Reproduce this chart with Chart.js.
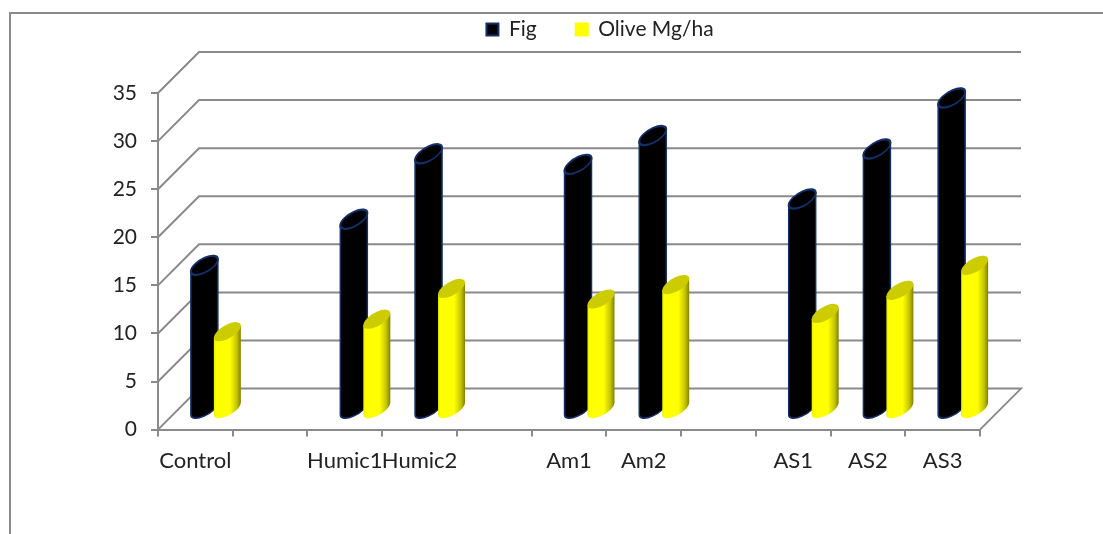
<!DOCTYPE html>
<html>
<head>
<meta charset="utf-8">
<style>
  html, body { margin: 0; padding: 0; background: #fff; }
  canvas { display: block; }
</style>
<script src="https://cdn.jsdelivr.net/npm/chart.js@4"></script>
</head>
<body>
<canvas id="chart" width="1103" height="534"></canvas>
<script>
// blank labels are the empty slots between the treatment groups
const categories = ['Control', '', 'Humic1', 'Humic2', '', 'Am1', 'Am2', '', 'AS1', 'AS2', 'AS3'];
const figValues = [15.0, null, 19.8, 26.6, null, 25.5, 28.5, null, 21.9, 27.1, 32.4];
const oliveValues = [8.1, null, 9.4, 12.6, null, 11.5, 13.0, null, 10.0, 12.4, 15.0];
const seriesNames = ['Fig', 'Olive Mg/ha'];

const axisColor = '#8a8a8a';
const textColor = '#222222';
const fontFamily = 'Lato, "Open Sans", sans-serif';

// the wall and floor are pushed back by this much
const depth = 41;
// cylinders stand half way into the floor
const barShift = { x: 20.5, y: -20 };

function drawWalls(chart) {
    const ctx = chart.ctx;
    const area = chart.chartArea;
    const yScale = chart.scales.y;
    ctx.save();
    ctx.strokeStyle = axisColor;
    ctx.lineWidth = 2;
    // outer frame, runs off the right and bottom of the picture
    ctx.beginPath();
    ctx.moveTo(10, 534);
    ctx.lineTo(10, 13);
    ctx.lineTo(1103, 13);
    ctx.stroke();
    yScale.ticks.forEach(function (t) {
        const y = yScale.getPixelForValue(t.value);
        ctx.beginPath();
        ctx.moveTo(area.left, y);
        ctx.lineTo(area.left + depth, y - depth);
        ctx.lineTo(area.right + depth, y - depth);
        if (t.value === 0) {
            ctx.lineTo(area.right, y);
        }
        ctx.stroke();
    });
    ctx.restore();
}

function cylinderFill(ctx, left, right, isYellow) {
    if (!isYellow) {
        return '#000000';
    }
    const g = ctx.createLinearGradient(left, 0, right, 0);
    g.addColorStop(0, '#e8e800');
    g.addColorStop(0.08, '#ffff00');
    g.addColorStop(0.6, '#ffff00');
    g.addColorStop(0.85, '#c4c400');
    g.addColorStop(1, '#808000');
    return g;
}

function drawCylinder(ctx, bar, isYellow) {
    const a = bar.width / 2;
    const b = 7.5;
    const tilt = 6;
    const cx = bar.x + barShift.x;
    ctx.save();
    // shear so the round ends lean up to the right
    ctx.translate(cx, barShift.y);
    ctx.transform(1, -tilt / a, 0, 1, 0, 0);
    ctx.beginPath();
    ctx.moveTo(-a, bar.y);
    ctx.lineTo(-a, bar.base);
    ctx.ellipse(0, bar.base, a, b, 0, Math.PI, 0, true);
    ctx.lineTo(a, bar.y);
    ctx.closePath();
    ctx.fillStyle = cylinderFill(ctx, -a, a, isYellow);
    ctx.fill();
    if (!isYellow) {
        ctx.strokeStyle = '#12306b';
        ctx.lineWidth = 1.5;
        ctx.stroke();
    }
    ctx.beginPath();
    ctx.ellipse(0, bar.y, a, b, 0, 0, Math.PI * 2);
    ctx.fillStyle = isYellow ? '#cccc00' : '#000000';
    ctx.fill();
    if (!isYellow) {
        ctx.strokeStyle = '#12306b';
        ctx.lineWidth = 2;
        ctx.stroke();
    }
    ctx.restore();
}

const chart3d = {
    id: 'chart3d',
    afterUpdate: function (chart) {
        // legend sits right of centre and above the wall in the original
        const shiftX = 110;
        const shiftY = -43;
        chart.legend.left += shiftX;
        chart.legend.right += shiftX;
        chart.legend.top += shiftY;
        chart.legend.bottom += shiftY;
        chart.legend.adjustHitBoxes();
    },
    beforeDatasetsDraw: function (chart) {
        drawWalls(chart);
        chart.data.datasets.forEach(function (ds, i) {
            chart.getDatasetMeta(i).data.forEach(function (bar, j) {
                if (ds.data[j] !== null) {
                    drawCylinder(chart.ctx, bar, i === 1);
                }
            });
        });
    },
    // cylinders are already painted, in series order
    beforeDatasetDraw: function () {
        return false;
    }
};

new Chart(document.getElementById('chart'), {
    type: 'bar',
    data: {
        labels: categories,
        datasets: [
            { label: seriesNames[0], data: figValues, backgroundColor: '#000000', borderColor: '#12306b', borderWidth: 2 },
            { label: seriesNames[1], data: oliveValues, backgroundColor: '#ffff00', borderColor: '#ffff00', borderWidth: 2 }
        ]
    },
    options: {
        responsive: false,
        animation: false,
        categoryPercentage: 0.615,
        barPercentage: 1.174,
        layout: { padding: { top: 23, right: 123, bottom: 49, left: 0 } },
        plugins: {
            tooltip: { enabled: false },
            legend: {
                position: 'top',
                labels: {
                    boxWidth: 12,
                    boxHeight: 12,
                    padding: 39,
                    color: textColor,
                    font: { family: fontFamily, size: 21 }
                }
            }
        },
        scales: {
            x: {
                offset: true,
                grid: { offset: true, drawOnChartArea: false, color: axisColor, lineWidth: 2, tickLength: 7 },
                border: { color: axisColor, width: 2 },
                ticks: {
                    autoSkip: false,
                    maxRotation: 0,
                    padding: 11,
                    color: textColor,
                    font: { family: fontFamily, size: 22 }
                }
            },
            y: {
                min: 0,
                max: 35,
                afterFit: function (scale) { scale.width = 158; },
                grid: { drawOnChartArea: false, color: axisColor, lineWidth: 2, tickLength: 7 },
                border: { color: axisColor, width: 2 },
                ticks: {
                    stepSize: 5,
                    padding: 14,
                    color: textColor,
                    font: { family: fontFamily, size: 21 }
                }
            }
        }
    },
    plugins: [chart3d]
});
</script>
</body>
</html>
